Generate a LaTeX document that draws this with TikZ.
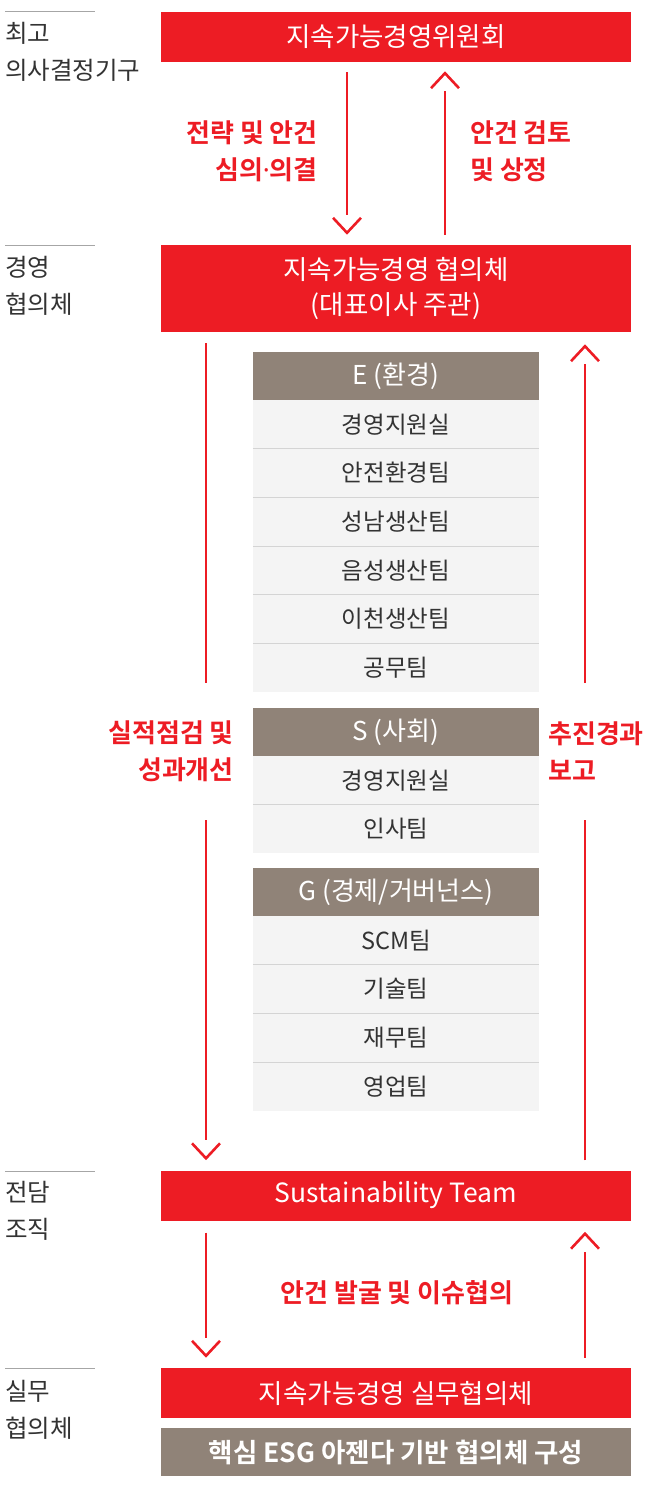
\documentclass[tikz,border=0pt]{standalone}
\usepackage{fontspec}
\setmainfont{Noto Sans CJK KR}[BoldFont={Noto Sans CJK KR Bold}]
\newfontfamily\dotfont{Noto Sans}
\usetikzlibrary{arrows.meta}

\definecolor{esgred}{HTML}{ED1C24}
\definecolor{esgbrown}{HTML}{908378}
\definecolor{rowgray}{HTML}{F4F4F4}
\definecolor{rowline}{HTML}{D4D4D4}
\definecolor{textgray}{HTML}{333333}

\tikzset{
  redbox/.style={fill=esgred,text=white,minimum width=470pt,minimum height=50pt,inner sep=0pt,align=center,font=\fontsize{26.5}{35}\selectfont},
  brownbar/.style={fill=esgbrown,text=white,minimum width=470pt,minimum height=48pt,inner sep=0pt,font=\bfseries\fontsize{26.5}{30}\selectfont},
  headbox/.style={fill=esgbrown,text=white,minimum width=286pt,minimum height=48pt,inner sep=0pt,font=\fontsize{26}{30}\selectfont},
  rowbox/.style={fill=rowgray,text=textgray,minimum width=286pt,minimum height=48.7pt,inner sep=0pt,font=\fontsize{23.5}{27}\selectfont},
  levellabel/.style={anchor=west,align=left,inner sep=0pt,text=textgray,font=\fontsize{24.5}{37}\selectfont},
  flowlabel/.style={inner sep=0pt,text=esgred,font=\bfseries\fontsize{26}{37}\selectfont},
  flowline/.style={draw=esgred,line width=2.6pt},
  flow/.style={flowline,shorten >=18pt},
  chevron/.style={draw=esgred,line width=2.6pt},
  levelline/.style={draw=gray!70,line width=1pt},
  rowsep/.style={draw=rowline,line width=1pt},
}
% 화살촉 (선과 떨어진 V자)
\newcommand{\headdown}[1]{\draw [chevron] ([xshift=-14pt,yshift=15pt]#1) -- (#1) -- ([xshift=14pt,yshift=15pt]#1);}
\newcommand{\headup}[1]{\draw [chevron] ([xshift=-14pt,yshift=-15pt]#1) -- (#1) -- ([xshift=14pt,yshift=-15pt]#1);}

\begin{document}
\begin{tikzpicture}[x=1pt,y=-1pt]

\useasboundingbox (0,0) rectangle (650,1490);

%% 왼쪽 구분선과 단계 이름
\draw [levelline] (5,12) -- (95,12);
\draw [levelline] (5,245) -- (95,245);
\draw [levelline] (5,1171) -- (95,1171);
\draw [levelline] (5,1368) -- (95,1368);
\node [levellabel] (lv1) at (5,51.5) {최고\\의사결정기구};
\node [levellabel] (lv2) at (5,286) {경영\\협의체};
\node [levellabel] (lv3) at (5,1211) {전담\\조직};
\node [levellabel] (lv4) at (5,1410) {실무\\협의체};

%% 빨간 상자
\node [redbox] (top) at (396,37) {지속가능경영위원회};
\node [redbox,minimum height=87pt] (mgmt) at (396,288.5) {지속가능경영 협의체\\(대표이사 주관)};
\node [redbox] (st) at (396,1195.5) {Sustainability Team};
\node [redbox] (work) at (396,1393) {지속가능경영 실무협의체};
\node [brownbar] (agenda) at (396,1452) {핵심 ESG 아젠다 기반 협의체 구성};

%% E (환경)
\node [headbox] (ehead) at (396,376) {E (환경)};
\node [rowbox] (e1) at (396,424.3) {경영지원실};
\node [rowbox] (e2) at (396,473) {안전환경팀};
\node [rowbox] (e3) at (396,521.7) {성남생산팀};
\node [rowbox] (e4) at (396,570.3) {음성생산팀};
\node [rowbox] (e5) at (396,619) {이천생산팀};
\node [rowbox] (e6) at (396,667.7) {공무팀};
\draw [rowsep] (e1.south west) -- (e1.south east);
\draw [rowsep] (e2.south west) -- (e2.south east);
\draw [rowsep] (e3.south west) -- (e3.south east);
\draw [rowsep] (e4.south west) -- (e4.south east);
\draw [rowsep] (e5.south west) -- (e5.south east);

%% S (사회)
\node [headbox] (shead) at (396,732) {S (사회)};
\node [rowbox] (s1) at (396,780.3) {경영지원실};
\node [rowbox] (s2) at (396,829) {인사팀};
\draw [rowsep] (s1.south west) -- (s1.south east);

%% G (경제/거버넌스)
\node [headbox] (ghead) at (396,892) {G (경제/거버넌스)};
\node [rowbox] (g1) at (396,940.3) {SCM팀};
\node [rowbox] (g2) at (396,989) {기술팀};
\node [rowbox] (g3) at (396,1037.7) {재무팀};
\node [rowbox] (g4) at (396,1086.3) {영업팀};
\draw [rowsep] (g1.south west) -- (g1.south east);
\draw [rowsep] (g2.south west) -- (g2.south east);
\draw [rowsep] (g3.south west) -- (g3.south east);

%% 화살표 끝점
\coordinate (d1a) at ([xshift=-49pt,yshift=-10pt]top.south);
\coordinate (d1b) at ([xshift=-49pt,yshift=12pt]mgmt.north);
\coordinate (u1a) at ([xshift=49pt,yshift=10pt]mgmt.north);
\coordinate (u1b) at ([xshift=49pt,yshift=-11pt]top.south);
\coordinate (d2a) at ([xshift=-190pt,yshift=-11pt]mgmt.south);
\coordinate (gapl1) at (206,683);
\coordinate (gapl2) at (206,820);
\coordinate (d2b) at ([xshift=-190pt,yshift=12pt]st.north);
\coordinate (u2a) at ([xshift=189pt,yshift=10pt]st.north);
\coordinate (gapr2) at (585,820);
\coordinate (gapr1) at (585,683);
\coordinate (u2b) at ([xshift=189pt,yshift=-14pt]mgmt.south);
\coordinate (d3a) at ([xshift=-190pt,yshift=-12pt]st.south);
\coordinate (d3b) at ([xshift=-190pt,yshift=12pt]work.north);
\coordinate (u3a) at ([xshift=189pt,yshift=10pt]work.north);
\coordinate (u3b) at ([xshift=189pt,yshift=-13pt]st.south);

%% 화살표
\draw [flow] (d1a) -- (d1b);  \headdown{d1b}
\draw [flow] (u1a) -- (u1b);  \headup{u1b}
\draw [flowline] (d2a) -- (gapl1);
\draw [flow] (gapl2) -- (d2b);  \headdown{d2b}
\draw [flowline] (u2a) -- (gapr2);
\draw [flow] (gapr1) -- (u2b);  \headup{u2b}
\draw [flow] (d3a) -- (d3b);  \headdown{d3b}
\draw [flow] (u3a) -- (u3b);  \headup{u3b}

%% 화살표 설명
\node [flowlabel,anchor=east,align=right] (lab1) at (318,151.5) {전략 및 안건\\심의{\dotfont\bfseries ·}의결};
\node [flowlabel,anchor=west,align=left] (lab2) at (470,151.5) {안건 검토\\및 상정};
\node [flowlabel,anchor=east,align=right] (lab3) at (234,751.5) {실적점검 및\\성과개선};
\node [flowlabel,anchor=west,align=left] (lab4) at (548,751.5) {추진경과\\보고};
\node [flowlabel] (lab5) at (397,1293) {안건 발굴 및 이슈협의};

\end{tikzpicture}
\end{document}
